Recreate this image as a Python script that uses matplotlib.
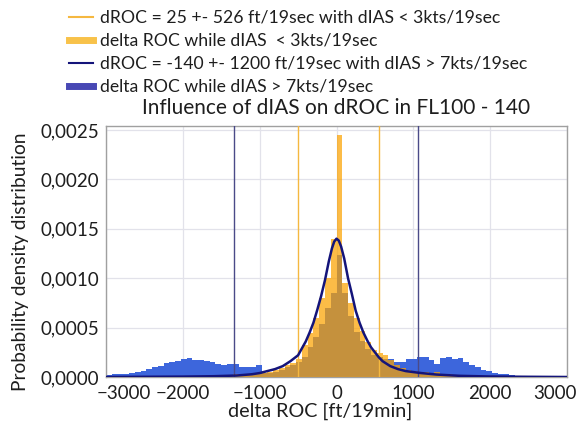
import numpy as np
import matplotlib
matplotlib.use("Agg")
import matplotlib.pyplot as plt
from matplotlib.lines import Line2D
from matplotlib.ticker import FuncFormatter
from matplotlib.transforms import ScaledTranslation

plt.rcParams['font.family'] = ['Lato', 'DejaVu Sans']

# ---- data ----
bin_start = -3000
bin_width = 75
blue_hist = [0.00002, 0.00003, 0.00003, 0.00003, 0.00004, 0.00005, 0.00006, 0.00008, 0.0001, 0.00011,
             0.00014, 0.00015, 0.00016, 0.00018, 0.00019, 0.00017, 0.00017, 0.00016, 0.00015, 0.00013,
             0.00012, 0.00013, 0.00013, 0.0001, 0.0001, 0.0001, 0.00012, 0.00004, 0.00004, 0.00005,
             0.00007, 0.0001, 0.00012, 0.00015, 0.0002, 0.0003, 0.0004, 0.00054, 0.0007, 0.00085,
             0.00123, 0.00085, 0.00062, 0.00046, 0.00036, 0.00028, 0.00022, 0.0002, 0.00018, 0.00018,
             0.000155, 0.000155, 0.00018, 0.00018, 0.0002, 0.0002, 0.00017, 0.00013, 0.00019, 0.0002,
             0.00018, 0.00019, 0.00015, 0.00012, 0.0001, 0.00007, 0.00006, 0.00004, 0.00003, 0.00003,
             0.00002, 0.00001, 0.00001, 0.00001, 0.000005, 0, 0, 0, 0, 0]
orange_hist = [0, 0, 0, 0, 0, 0, 0, 0, 0, 0,
               0, 0, 0, 0, 0, 0.00001, 0, 0, 0, 0,
               0.00001, 0.00001, 0.00003, 0.00002, 0.00002, 0.00003, 0.00003, 0.00004, 0.00005, 0.00007,
               0.00009, 0.00012, 0.00014, 0.00018, 0.00032, 0.00045, 0.0006, 0.0008, 0.001, 0.0014,
               0.00245, 0.00095, 0.00075, 0.0006, 0.00047, 0.00035, 0.00027, 0.00024, 0.00022, 0.00017,
               0.00012, 0.00009, 0.00007, 0.00006, 0.00005, 0.00005, 0.00004, 0.00005, 0.00003, 0.00003,
               0.00002, 0.00002, 0.00001, 0.00001, 0, 0, 0, 0, 0, 0,
               0, 0, 0, 0, 0, 0, 0, 0, 0, 0]

curve_x = [-3000, -2500, -2000, -1600, -1300, -1100, -1000, -900, -800, -700, -600, -500, -450, -400,
           -350, -300, -250, -200, -150, -100, -60, -30, 0, 30, 60, 100, 150, 200, 250, 300, 350, 400,
           450, 500, 550, 600, 700, 800, 900, 1000, 1100, 1300, 1600, 2000, 2500, 3000]
curve_y = [0, 0.000002, 0.000004, 0.000008, 0.000015, 0.000028, 0.00004, 0.00006, 0.00008, 0.00011,
           0.00016, 0.00022, 0.00029, 0.00036, 0.00045, 0.00055, 0.00068, 0.00082, 0.00098, 0.00117,
           0.0013, 0.00137, 0.0014, 0.00138, 0.00132, 0.0012, 0.001, 0.00084, 0.00067, 0.00055,
           0.00045, 0.00037, 0.0003, 0.00025, 0.0002, 0.00016, 0.00011, 0.00008, 0.00006, 0.00005,
           0.00004, 0.000025, 0.000012, 0.000005, 0.000002, 0]

orange_mean, orange_std = 25, 526
blue_mean, blue_std = -140, 1200

legend_labels = ["dROC = 25 +- 526 ft/19sec with dIAS < 3kts/19sec",
                 "delta ROC while dIAS  < 3kts/19sec",
                 "dROC = -140 +- 1200 ft/19sec with dIAS > 7kts/19sec",
                 "delta ROC while dIAS > 7kts/19sec"]
title = "Influence of dIAS on dROC in FL100 - 140"
xlabel = "delta ROC [ft/19min]"
ylabel = "Probability density distribution"
xticks = [-3000, -2000, -1000, 0, 1000, 2000, 3000]
yticks = [0, 0.0005, 0.001, 0.0015, 0.002, 0.0025]

# ---- colours ----
c_orange = '#FBA200'
c_orange_line = '#F5B840'
c_blue = '#3D66DC'
c_navy_line = '#4A4A88'
c_curve = '#14147A'
c_text = '#1E1E1E'

fig = plt.figure(figsize=(5.79, 4.28), dpi=100)
ax = fig.add_axes([106 / 579, 1 - 377 / 428, 461 / 579, 251 / 428])

edges = bin_start + bin_width * np.arange(len(blue_hist) + 1)
ax.bar(edges[:-1], blue_hist, width=bin_width, align='edge', color=c_blue, linewidth=0, zorder=2)
ax.bar(edges[:-1], orange_hist, width=bin_width, align='edge', color=c_orange, alpha=0.72,
       linewidth=0, zorder=3)

for v in (orange_mean - orange_std, orange_mean + orange_std):
    ax.axvline(v, color=c_orange_line, lw=1.0, zorder=4)
for v in (blue_mean - blue_std, blue_mean + blue_std):
    ax.axvline(v, color=c_navy_line, lw=1.0, zorder=4)

ax.plot(curve_x, curve_y, color=c_curve, lw=1.8, zorder=5)

ax.set_xlim(-3000, 3000)
ax.set_ylim(0, 0.00254)
ax.set_xticks(xticks)
ax.set_yticks(yticks)
ax.yaxis.set_major_formatter(FuncFormatter(lambda v, p: f"{v:.4f}".replace('.', ',')))
ax.tick_params(length=0, labelsize=13.5, colors=c_text)
ax.tick_params(axis='x', pad=6)
ax.tick_params(axis='y', pad=5)
ax.grid(True, color='#E2E2EA', lw=0.9)
ax.set_axisbelow(True)
for s in ax.spines.values():
    s.set_color('#A0A0A0')
    s.set_linewidth(1.0)

# shift end tick labels inward, as in the reference
xt = ax.xaxis.get_major_ticks()
xt[0].label1.set_horizontalalignment('left')
xt[0].label1.set_transform(xt[0].label1.get_transform() + ScaledTranslation(-0.09, 0, fig.dpi_scale_trans))
xt[-1].label1.set_horizontalalignment('right')
xt[-1].label1.set_transform(xt[-1].label1.get_transform() + ScaledTranslation(0.10, 0, fig.dpi_scale_trans))

ax.set_title(title, fontsize=15, color=c_text, y=(377 - 108) / 251, va='center', pad=0)
ax.set_xlabel(xlabel, fontsize=14.2, color=c_text, va='center')
ax.xaxis.set_label_coords((320 - 106) / 461, (377 - 411) / 251)
ax.set_ylabel(ylabel, fontsize=13.8, color=c_text, va='center')
ax.yaxis.set_label_coords((21 - 106) / 461, (377 - 262) / 251)

handles = [Line2D([], [], color=c_orange_line, lw=1.5),
           Line2D([], [], color='#F8C24A', lw=5),
           Line2D([], [], color=c_curve, lw=1.5),
           Line2D([], [], color='#4848B4', lw=5)]
fig.legend(handles, legend_labels, loc='upper left', bbox_to_anchor=(0.102, 1.0),
           frameon=False, fontsize=12.7, handlelength=1.35, handletextpad=0.4,
           labelspacing=0.4, borderaxespad=0.15, labelcolor=c_text)

fig.savefig('out.png', dpi=100)
